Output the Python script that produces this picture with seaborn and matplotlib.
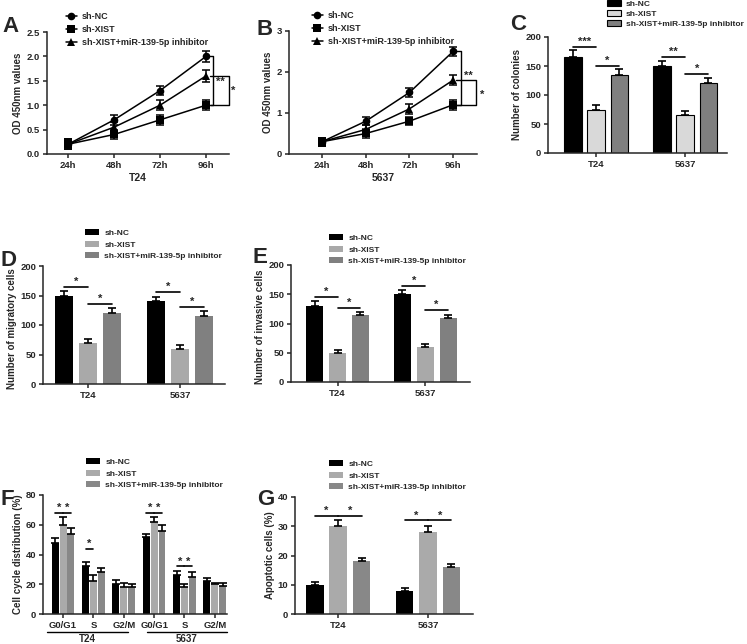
import numpy as np
import pandas as pd
import seaborn as sns
import matplotlib
matplotlib.use("Agg")
import matplotlib.pyplot as plt
from matplotlib.transforms import blended_transform_factory

# ---------------- data ----------------
groups = ["sh-NC", "sh-XIST", "sh-XIST+miR-139-5p inhibitor"]
timepoints = ["24h", "48h", "72h", "96h"]

# A: T24 CCK-8
a_nc = [0.2, 0.7, 1.3, 2.0]
a_xist = [0.2, 0.4, 0.7, 1.0]
a_inh = [0.2, 0.55, 1.0, 1.6]
a_nc_err = [0.1, 0.1, 0.1, 0.12]
a_xist_err = [0.1, 0.1, 0.1, 0.1]
a_inh_err = [0.1, 0.1, 0.1, 0.12]

# B: 5637 CCK-8
b_nc = [0.3, 0.8, 1.5, 2.5]
b_xist = [0.3, 0.5, 0.8, 1.2]
b_inh = [0.3, 0.6, 1.1, 1.8]
b_nc_err = [0.1, 0.1, 0.1, 0.12]
b_xist_err = [0.1, 0.1, 0.1, 0.12]
b_inh_err = [0.1, 0.1, 0.12, 0.12]

cells = ["T24", "5637"]

# C: colonies
c_nc = [165, 150]
c_xist = [75, 65]
c_inh = [135, 120]
c_nc_err = [12, 8]
c_xist_err = [8, 8]
c_inh_err = [10, 10]

# D: migratory cells
d_nc = [150, 140]
d_xist = [70, 60]
d_inh = [120, 115]
d_nc_err = [8, 8]
d_xist_err = [6, 6]
d_inh_err = [8, 8]

# E: invasive cells
e_nc = [130, 150]
e_xist = [50, 60]
e_inh = [115, 110]
e_nc_err = [8, 8]
e_xist_err = [5, 5]
e_inh_err = [5, 5]

# F: cell cycle
f_keys = ["T24 G0/G1", "T24 S", "T24 G2/M", "5637 G0/G1", "5637 S", "5637 G2/M"]
f_ticklabels = ["G0/G1", "S", "G2/M", "G0/G1", "S", "G2/M"]
f_nc = [48, 32, 20, 52, 26, 22]
f_xist = [60, 22, 18, 62, 18, 20]
f_inh = [54, 28, 18, 56, 25, 19]
f_nc_err = [3, 3, 3, 2, 3, 2]
f_xist_err = [5, 4, 3, 3, 2, 1]
f_inh_err = [4, 3, 2, 4, 3, 2]

# G: apoptosis
g_nc = [10, 8]
g_xist = [30, 28]
g_inh = [18, 16]
g_nc_err = [1, 1]
g_xist_err = [2, 2]
g_inh_err = [1, 1]

# significance annotations: (category index, hue a, hue b, y, label)
c_sig = [(0, 0, 1, 183, "***"), (0, 1, 2, 150, "*"), (1, 0, 1, 165, "**"), (1, 1, 2, 136, "*")]
d_sig = [(0, 0, 1, 164, "*"), (0, 1, 2, 136, "*"), (1, 0, 1, 156, "*"), (1, 1, 2, 130, "*")]
e_sig = [(0, 0, 1, 145, "*"), (0, 1, 2, 126, "*"), (1, 0, 1, 164, "*"), (1, 1, 2, 123, "*")]
f_sig = [(0, 0, 1, 68, "*"), (0, 1, 2, 68, "*"), (1, 0, 1, 44, "*"),
         (3, 0, 1, 68, "*"), (3, 1, 2, 68, "*"), (4, 0, 1, 32, "*"), (4, 1, 2, 32, "*")]
g_sig = [(0, 0, 1, 33.5, "*"), (0, 1, 2, 33.5, "*"), (1, 0, 1, 32, "*"), (1, 1, 2, 32, "*")]

# ---------------- style ----------------
sns.set_theme(style="ticks")
plt.rcParams["font.family"] = ["Liberation Sans", "DejaVu Sans"]
plt.rcParams["font.weight"] = "bold"
plt.rcParams["axes.labelweight"] = "bold"
plt.rcParams["axes.linewidth"] = 1.1
plt.rcParams["xtick.major.width"] = 1.1
plt.rcParams["ytick.major.width"] = 1.1
plt.rcParams["xtick.major.size"] = 3
plt.rcParams["ytick.major.size"] = 3
plt.rcParams["xtick.labelsize"] = 6.8
plt.rcParams["ytick.labelsize"] = 6.8
plt.rcParams["xtick.major.pad"] = 2
plt.rcParams["ytick.major.pad"] = 2

W, H = 747, 644
fig = plt.figure(figsize=(W / 100, H / 100), dpi=100)


def rect(l, t, r, b):
    return [l / W, 1 - b / H, (r - l) / W, (b - t) / H]


def fx(x):
    return x / W


def fy(y):
    return 1 - y / H


LABEL_FS = 7.0


def panel_letter(x, y, s):
    fig.text(fx(x), fy(y), s, fontsize=16, fontweight="bold", ha="left", va="baseline")


def line_panel(rc, vals, errs, xlabel, ylim, yticks, xlim, leg_xy, brackets, stars):
    ax = fig.add_axes(rc)
    xs = list(range(len(timepoints)))
    df = pd.DataFrame({
        "x": np.tile(xs, 3),
        "value": np.concatenate(vals),
        "group": np.repeat(groups, len(xs)),
    })
    sns.lineplot(data=df, x="x", y="value", hue="group", style="group",
                 markers=["o", "s", "^"], dashes=False,
                 palette=["black"] * 3, ax=ax, markersize=5.5,
                 linewidth=1.1, markeredgewidth=0, legend=True)
    for v, e in zip(vals, errs):
        ax.errorbar(xs, v, yerr=e, fmt="none", ecolor="black",
                    elinewidth=1.1, capsize=3, capthick=1.1)
    leg = ax.get_legend()
    handles = leg.legend_handles
    labels = [t.get_text() for t in leg.get_texts()]
    ax.legend(handles, labels, loc="upper left",
              bbox_to_anchor=(fx(leg_xy[0]), fy(leg_xy[1])),
              bbox_transform=fig.transFigure, frameon=False,
              fontsize=6.45, handlelength=1.2, handletextpad=0.6,
              labelspacing=0.45, borderpad=0, borderaxespad=0)
    ax.set_xlim(*xlim)
    ax.set_ylim(*ylim)
    ax.set_yticks(yticks)
    ax.set_xticks(xs)
    ax.set_xticklabels(timepoints)
    ax.set_xlabel(xlabel, fontsize=7.5, labelpad=2)
    ax.set_ylabel("OD 450nm values", fontsize=LABEL_FS, labelpad=3)
    sns.despine(ax=ax)
    for (xv, x0, y1, y2) in brackets:
        ax.plot([x0, xv, xv, x0], [y1, y1, y2, y2], color="black",
                lw=1.0, clip_on=False)
    for (xv, yv, s) in stars:
        ax.text(xv, yv, s, fontsize=8, ha="center", va="center", clip_on=False)
    return ax


def bar_panel(rc, cats, vals, errs, colors, xlim, ylim, yticks, ylabel,
              width, gap, leg_xy, sig, edge=False, labelspacing=0.45,
              ticklabels=None, leg_fs=6.05, label_y=0.5):
    ax = fig.add_axes(rc)
    df = pd.DataFrame({
        "cell": np.tile(cats, 3),
        "value": np.concatenate(vals),
        "group": np.repeat(groups, len(cats)),
    })
    sns.barplot(data=df, x="cell", y="value", hue="group", palette=colors,
                width=width, gap=gap, errorbar=None, ax=ax, saturation=1,
                edgecolor="black" if edge else "none",
                linewidth=0.8 if edge else 0, legend=True)
    bars = list(ax.containers)
    for k, cont in enumerate(bars):
        for j, p in enumerate(cont.patches):
            cx = p.get_x() + p.get_width() / 2
            ax.errorbar([cx], [p.get_height()], yerr=[[0], [errs[k][j]]],
                        fmt="none", ecolor="black", elinewidth=1.2,
                        capsize=3, capthick=1.2)
    for (ci, ha_, hb, yv, s) in sig:
        pa = bars[ha_].patches[ci]
        pb = bars[hb].patches[ci]
        x1 = pa.get_x() + pa.get_width() / 2
        x2 = pb.get_x() + pb.get_width() / 2
        ax.plot([x1, x2], [yv, yv], color="black", lw=1.2)
        ax.text((x1 + x2) / 2, yv, s, fontsize=8, ha="center", va="bottom")
    leg = ax.get_legend()
    handles = leg.legend_handles
    labels = [t.get_text() for t in leg.get_texts()]
    ax.legend(handles, labels, loc="upper left",
              bbox_to_anchor=(fx(leg_xy[0]), fy(leg_xy[1])),
              bbox_transform=fig.transFigure, frameon=False,
              fontsize=leg_fs, handlelength=1.7, handleheight=0.7,
              handletextpad=0.6, labelspacing=labelspacing, borderpad=0,
              borderaxespad=0)
    ax.set_xlim(*xlim)
    ax.set_ylim(*ylim)
    ax.set_yticks(yticks)
    if ticklabels is not None:
        ax.set_xticks(range(len(cats)))
        ax.set_xticklabels(ticklabels)
    ax.set_xlabel("")
    ax.set_ylabel(ylabel, fontsize=LABEL_FS, labelpad=2)
    ax.yaxis.label.set_y(label_y)
    sns.despine(ax=ax)
    return ax


# ---------------- A ----------------
line_panel(rect(47, 32, 229, 154), [a_nc, a_xist, a_inh],
           [a_nc_err, a_xist_err, a_inh_err], "T24",
           (0, 2.5), [0.0, 0.5, 1.0, 1.5, 2.0, 2.5], (-0.46, 3.5), (66, 12),
           brackets=[(3.15, 3.08, 2.0, 1.0), (3.5, 3.08, 1.6, 1.0)],
           stars=[(3.32, 1.48, "**"), (3.6, 1.3, "*")])
panel_letter(2, 32, "A")

# ---------------- B ----------------
line_panel(rect(289, 31, 477, 154), [b_nc, b_xist, b_inh],
           [b_nc_err, b_xist_err, b_inh_err], "5637",
           (0, 3), [0, 1, 2, 3], (-0.76, 3.55), (312, 11),
           brackets=[(3.18, 3.08, 2.5, 1.2), (3.52, 3.08, 1.8, 1.2)],
           stars=[(3.36, 1.9, "**"), (3.66, 1.45, "*")])
panel_letter(257, 35, "B")

# ---------------- C ----------------
bar_panel(rect(548, 37, 727, 153), cells, [c_nc, c_xist, c_inh],
          [c_nc_err, c_xist_err, c_inh_err],
          ["#000000", "#d9d9d9", "#7f7f7f"], (-0.54, 1.47), (0, 200),
          [0, 50, 100, 150, 200], "Number of colonies", 0.78, 0.25,
          (607, 0), c_sig, edge=True, labelspacing=0.25, leg_fs=6.0)
panel_letter(510, 30, "C")

# ---------------- D ----------------
bar_panel(rect(43, 266, 225, 384), cells, [d_nc, d_xist, d_inh],
          [d_nc_err, d_xist_err, d_inh_err],
          ["#000000", "#a9a9a9", "#808080"], (-0.49, 1.49), (0, 200),
          [0, 50, 100, 150, 200], "Number of migratory cells", 0.78, 0.25,
          (85, 229), d_sig, label_y=0.47)
panel_letter(1, 266, "D")

# ---------------- E ----------------
bar_panel(rect(291, 265, 470, 382), cells, [e_nc, e_xist, e_inh],
          [e_nc_err, e_xist_err, e_inh_err],
          ["#000000", "#a9a9a9", "#808080"], (-0.53, 1.51), (0, 200),
          [0, 50, 100, 150, 200], "Number of invasive cells", 0.78, 0.25,
          (329, 234), e_sig, label_y=0.47)
panel_letter(253, 263, "E")

# ---------------- F ----------------
axF = bar_panel(rect(43, 495, 227, 614), f_keys, [f_nc, f_xist, f_inh],
                [f_nc_err, f_xist_err, f_inh_err],
                ["#000000", "#aaaaaa", "#888888"], (-0.66, 5.4), (0, 80),
                [0, 20, 40, 60, 80], "Cell cycle distribution (%)", 0.78, 0.12,
                (86, 458), f_sig, ticklabels=f_ticklabels)
trF = blended_transform_factory(axF.transData, axF.transAxes)
axF.plot([-0.53, 2.14], [-0.15, -0.15], color="black", lw=1.0,
         transform=trF, clip_on=False)
axF.plot([2.76, 5.39], [-0.15, -0.15], color="black", lw=1.0,
         transform=trF, clip_on=False)
axF.text(0.8, -0.17, "T24", transform=trF, ha="center", va="top",
         fontsize=7.0)
axF.text(4.07, -0.17, "5637", transform=trF, ha="center", va="top",
         fontsize=7.0)
panel_letter(0, 505, "F")

# ---------------- G ----------------
bar_panel(rect(295, 497, 473, 614), cells, [g_nc, g_xist, g_inh],
          [g_nc_err, g_xist_err, g_inh_err],
          ["#000000", "#aaaaaa", "#888888"], (-0.48, 1.5), (0, 40),
          [0, 10, 20, 30, 40], "Apoptotic cells (%)", 0.78, 0.25,
          (329, 460), g_sig)
panel_letter(257, 505, "G")

fig.savefig("out.png", dpi=100)
